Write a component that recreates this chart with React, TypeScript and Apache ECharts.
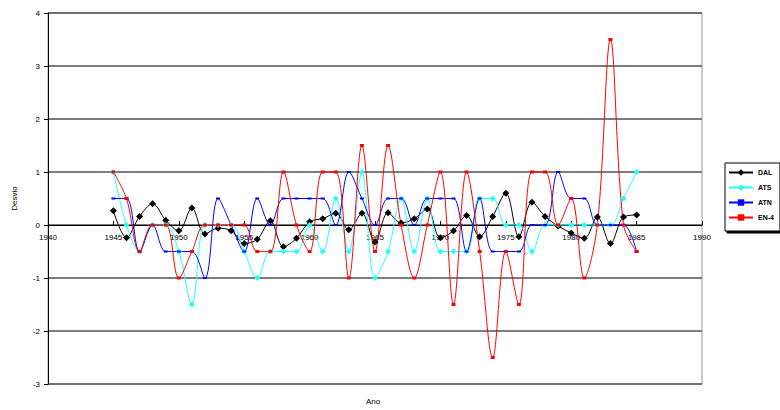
import React, { useEffect, useRef } from "react";
import * as echarts from "echarts";

const years = [
  1945, 1946, 1947, 1948, 1949, 1950, 1951, 1952, 1953, 1954,
  1955, 1956, 1957, 1958, 1959, 1960, 1961, 1962, 1963, 1964,
  1965, 1966, 1967, 1968, 1969, 1970, 1971, 1972, 1973, 1974,
  1975, 1976, 1977, 1978, 1979, 1980, 1981, 1982, 1983, 1984, 1985,
];

const dal = [
  0.27, -0.24, 0.16, 0.4, 0.09, -0.11, 0.32, -0.17, -0.06, -0.11,
  -0.35, -0.27, 0.08, -0.41, -0.25, 0.06, 0.12, 0.22, -0.09, 0.22,
  -0.32, 0.23, 0.04, 0.12, 0.3, -0.24, -0.11, 0.18, -0.22, 0.16,
  0.6, -0.22, 0.43, 0.16, -0.02, -0.15, -0.25, 0.15, -0.35, 0.15, 0.19,
];

const ats = [
  1.0, 0, -0.5, 0, 0, -0.5, -1.5, 0, 0, 0,
  -0.5, -1.0, -0.5, -0.5, -0.5, 0, -0.5, 0.5, -0.5, 1.0,
  -1.0, -0.5, 0.5, -0.5, 0.5, -0.5, -0.5, -0.5, 0.5, 0.5,
  0, 0, -0.5, 0, 0, 0, 0, 0, 0, 0.5, 1.0,
];

const atn = [
  0.5, 0.5, -0.5, 0, -0.5, -0.5, -0.5, -1.0, 0.5, 0,
  -0.5, 0.5, 0, 0.5, 0.5, 0.5, 0.5, 0, 1.0, 0.5,
  0, 0.5, 0.5, 0, 0.5, 0.5, 0.5, -0.5, 0.5, -0.5,
  -0.5, -0.5, 0, 0, 1.0, 0.5, 0.5, 0, 0, 0, -0.5,
];

const en4 = [
  1.0, 0.5, -0.5, 0, 0, -1.0, -0.5, 0, 0, 0,
  0, -0.5, -0.5, 1.0, 0, -0.5, 1.0, 1.0, -1.0, 1.5,
  -0.5, 1.5, 0, -1.0, 0, 1.0, -1.5, 1.0, -0.5, -2.5,
  -0.5, -1.5, 1.0, 1.0, 0, 0.5, -1.0, 0, 3.5, 0, -0.5,
];

const seriesNames = ["DAL", "ATS", "ATN", "EN-4"];
const seriesColors = ["#000000", "#22ffff", "#0000ff", "#ff0000"];

const FONT = "'Liberation Sans', Arial, sans-serif";

export default function App() {
  const ref = useRef<HTMLDivElement>(null);

  useEffect(() => {
    if (!ref.current) return;
    const chart = echarts.init(ref.current, null, { renderer: "svg" });
    const toPairs = (vals: number[]) => years.map((y, i) => [y, vals[i]]);
    const allData = [dal, ats, atn, en4];
    const symbols = ["diamond", "diamond", "rect", "rect"];
    const symbolSizes: any[] = [7, 6, [4, 2], [4, 3]];

    chart.setOption({
      animation: false,
      backgroundColor: "#ffffff",
      textStyle: { fontFamily: FONT },
      grid: {
        left: 48,
        right: 78,
        top: 13,
        bottom: 26,
        show: true,
        borderColor: "#9a9a9a",
        borderWidth: 1,
        containLabel: false,
      },
      legend: {
        orient: "vertical",
        left: 725,
        top: 163,
        data: seriesNames,
        itemWidth: 24,
        itemHeight: 8,
        itemGap: 8,
        padding: [6, 6, 10, 3],
        borderColor: "#000",
        borderWidth: 1,
        backgroundColor: "#fff",
        shadowColor: "#000",
        shadowOffsetX: 2,
        shadowOffsetY: 2,
        shadowBlur: 0,
        textStyle: { fontSize: 7, fontWeight: "bold", color: "#000", fontFamily: FONT },
      },
      xAxis: {
        type: "value",
        min: 1940,
        max: 1990,
        interval: 5,
        axisLine: { onZero: true, lineStyle: { color: "#000", width: 1 } },
        axisTick: { show: true, inside: true, length: 4, lineStyle: { color: "#000" } },
        axisLabel: {
          fontSize: 8,
          color: "#000",
          margin: -151,
          fontFamily: FONT,
          formatter: (v: number) => String(v),
        },
        splitLine: { show: false },
      },
      yAxis: {
        type: "value",
        min: -3,
        max: 4,
        interval: 1,
        name: "Desvio",
        nameLocation: "middle",
        nameGap: 30,
        nameRotate: 90,
        nameTextStyle: { fontSize: 8, color: "#000", fontFamily: FONT },
        axisLine: { show: true, lineStyle: { color: "#000", width: 1 } },
        axisTick: { show: true, length: 4, lineStyle: { color: "#000" } },
        axisLabel: { fontSize: 8, color: "#000", margin: 8, fontFamily: FONT },
        splitLine: { show: true, lineStyle: { color: "#505050", width: 1.5 } },
      },
      graphic: [
        {
          type: "text",
          left: 366,
          top: 397,
          style: { text: "Ano", fontSize: 8, fill: "#000", fontFamily: FONT },
        },
      ],
      series: allData.map((vals, i) => ({
        name: seriesNames[i],
        type: "line",
        data: toPairs(vals),
        smooth: 0.35,
        symbol: symbols[i],
        symbolSize: symbolSizes[i],
        showSymbol: true,
        itemStyle: { color: seriesColors[i] },
        lineStyle: { color: seriesColors[i], width: 1 },
      })),
    });

    return () => chart.dispose();
  }, []);

  return (
    <div
      ref={ref}
      style={{ position: "fixed", left: 0, top: 0, width: 780, height: 410 }}
    />
  );
}
